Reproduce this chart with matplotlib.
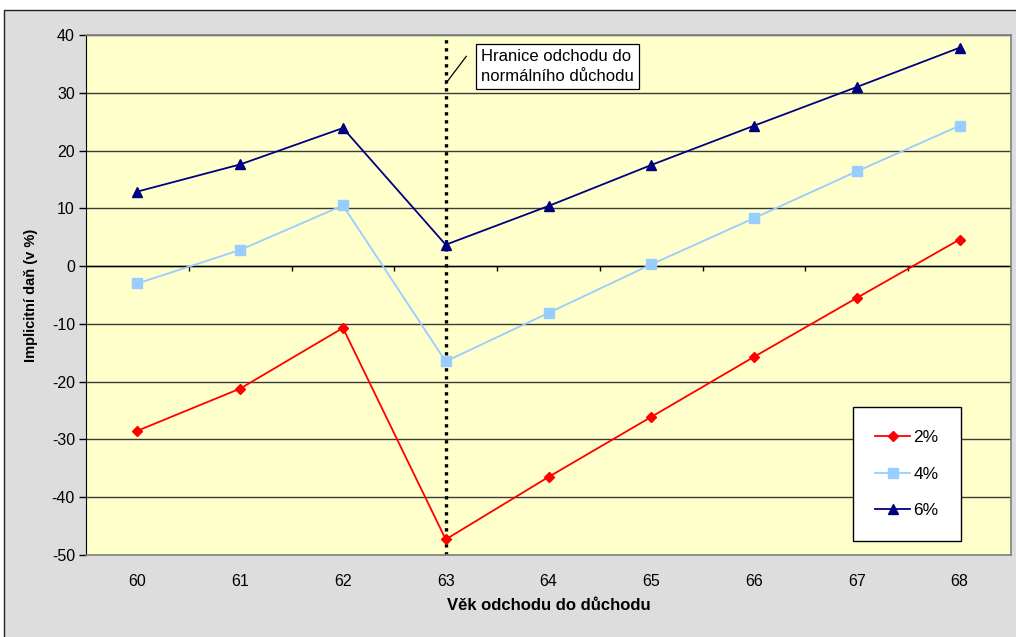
import numpy as np
import matplotlib
matplotlib.use("Agg")
import matplotlib.pyplot as plt
from matplotlib.patches import Rectangle

plt.rcParams['font.family'] = ['Liberation Sans', 'DejaVu Sans']
plt.rcParams['axes.unicode_minus'] = False

# implicit tax by retirement age, for three discount rates
ages = np.array([60, 61, 62, 63, 64, 65, 66, 67, 68])
tax_2 = [-28.5, -21.2, -10.7, -47.3, -36.5, -26.1, -15.7, -5.5, 4.6]
tax_4 = [-3.0, 2.8, 10.5, -16.5, -8.1, 0.3, 8.3, 16.4, 24.3]
tax_6 = [12.9, 17.6, 23.9, 3.7, 10.4, 17.5, 24.3, 31.0, 37.8]
normal_age = 63
yticks = np.arange(-50, 41, 10)

W, H = 1016, 637
fig = plt.figure(figsize=(W / 100, H / 100), dpi=100)
fig.patch.set_facecolor('white')

# grey chart area with a thin dark frame
frame = Rectangle((4 / W, -0.05), 1.2, 1.05 - 10 / H,
                  transform=fig.transFigure, facecolor='#dddddd',
                  edgecolor='#222222', lw=1.0, zorder=-10)
fig.add_artist(frame)

ax = fig.add_axes([86 / W, 1 - 555 / H, 925 / W, 520 / H])
ax.set_zorder(1)
ax.set_facecolor('#ffffcc')

ax.set_xlim(ages[0] - 0.5, ages[-1] + 0.5)
ax.set_ylim(-50, 40)
ax.set_yticks(yticks)
ax.set_xticks(ages)
ax.tick_params(axis='x', length=0, pad=14, labelsize=11.5)
ax.tick_params(axis='y', length=5, direction='out', width=1, labelsize=11.5, pad=3)

ax.grid(axis='y', color='#3a3a3a', lw=1.0)
ax.set_axisbelow(True)
for s in ['top', 'right', 'bottom']:
    ax.spines[s].set_color('#808080')
    ax.spines[s].set_linewidth(1.2)
ax.spines['left'].set_color('black')

# category axis crosses at zero, ticks between categories
ax.axhline(0, color='black', lw=1.0, zorder=1)
ax.vlines(ages[:-1] + 0.5, -0.9, 0, color='black', lw=1.0, zorder=1)

# normal retirement age
ax.axvline(normal_age, color='black', lw=2.4, ls=(0, (1, 1.4)), zorder=2)

l2, = ax.plot(ages, tax_2, color='#ff0000', lw=1.3, marker='D', ms=5.5, zorder=3)
l4, = ax.plot(ages, tax_4, color='#99ccff', lw=1.3, marker='s', ms=7.5, zorder=3)
l6, = ax.plot(ages, tax_6, color='#000080', lw=1.3, marker='^', ms=7.5, zorder=3)

ax.plot([63.0, 63.2], [31.6, 36.3], color='black', lw=0.9, zorder=4)
ax.text(63.34, 37.6, 'Hranice odchodu do\nnormálního důchodu', fontsize=12,
        ha='left', va='top', linespacing=1.45, zorder=5,
        bbox=dict(boxstyle='square,pad=0.3', facecolor='white',
                  edgecolor='black', lw=0.9))

leg = ax.legend([l2, l4, l6], ['2%', '4%', '6%'], loc='upper left',
                bbox_to_anchor=(0.829, 0.2846), fontsize=12.5, frameon=True,
                fancybox=False, edgecolor='black', framealpha=1,
                labelspacing=1.25, handlelength=2.0, handletextpad=0.2,
                borderpad=1.3, borderaxespad=0)
leg.get_frame().set_linewidth(1.0)

ax.set_ylabel('Implicitní daň (v %)', fontsize=10.5, fontweight='bold', labelpad=10)
ax.set_xlabel('Věk odchodu do důchodu', fontsize=12, fontweight='bold', labelpad=6)

fig.savefig('out.png', dpi=100, facecolor=fig.get_facecolor())
